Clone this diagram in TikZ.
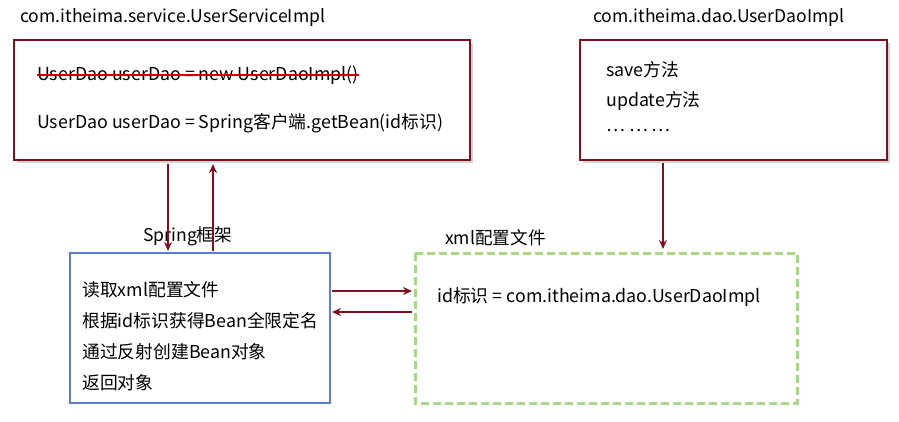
\documentclass[tikz,border=0pt]{standalone}
\usepackage{fontspec}
\setmainfont{Noto Sans CJK SC}
\usetikzlibrary{positioning,arrows.meta,shadows}
\definecolor{darkred}{HTML}{7F1020}
\definecolor{boxblue}{HTML}{5B7FC4}
\definecolor{boxgreen}{HTML}{A8D68A}
\tikzset{
	clsbox/.style={draw=darkred, line width=2.2pt, fill=white, drop shadow={opacity=.35,shadow xshift=3pt,shadow yshift=-3pt}},
	springbox/.style={draw=boxblue, line width=1.6pt, fill=white},
	xmlbox/.style={draw=boxgreen, line width=3pt, dash pattern=on 8pt off 4pt},
	txt/.style={anchor=west, inner sep=0pt, font=\fontsize{17.8}{20}\selectfont},
	ttl/.style={anchor=west, inner sep=0pt, font=\fontsize{17.6}{20}\selectfont},
	darrow/.style={-{Stealth[width=8pt,length=9pt]}, color=darkred, line width=1.6pt}
}
\begin{document}
\begin{tikzpicture}[x=1pt,y=-1pt]
\useasboundingbox (0,0) rectangle (899,421);

% titles
\node[ttl] (T1) at (20,18) {com.itheima.service.UserServiceImpl};
\node[ttl] (T2) at (593,18) {com.itheima.dao.UserDaoImpl};
\node[ttl] (T3) at (143,236) {Spring框架};
\node[ttl] (T4) at (445,238) {xml配置文件};

% boxes
\draw[clsbox] (14,40) rectangle (470,160);
\draw[clsbox] (580,40) rectangle (887,160);
\draw[springbox] (70,253) rectangle (330,403);
\draw[xmlbox] (415,253) rectangle (797,403);

% service
\node[txt] (S1) at (37,75) {UserDao userDao = new UserDaoImpl()};
\draw[red!80!black, line width=1.4pt] (S1.west) -- (S1.east);
\node[txt] (S2) at (37,123) {UserDao userDao = Spring客户端.getBean(id标识)};

% dao
\node[txt] (D1) at (606,70) {save方法};
\node[txt] (D2) at (606,101) {update方法};
\node[txt] (D3) at (606,130) {… … …};

% spring
\node[txt] (P1) at (82,290) {读取xml配置文件};
\node[txt] (P2) at (82,321) {根据id标识获得Bean全限定名};
\node[txt] (P3) at (82,352) {通过反射创建Bean对象};
\node[txt] (P4) at (82,383) {返回对象};

% xml
\node[txt] (X1) at (437,297) {id标识 = com.itheima.dao.UserDaoImpl};

% connectors
\coordinate (a1) at (168,164); \coordinate (a2) at (168,251);
\coordinate (b1) at (213,251); \coordinate (b2) at (213,164);
\coordinate (c1) at (663,163); \coordinate (c2) at (663,249);
\coordinate (d1) at (332,291); \coordinate (d2) at (412,291);
\coordinate (e1) at (412,312); \coordinate (e2) at (332,312);
\draw[darrow] (a1) -- (a2);
\draw[darrow] (b1) -- (b2);
\draw[darrow] (c1) -- (c2);
\draw[darrow] (d1) -- (d2);
\draw[darrow] (e1) -- (e2);
\end{tikzpicture}
\end{document}
